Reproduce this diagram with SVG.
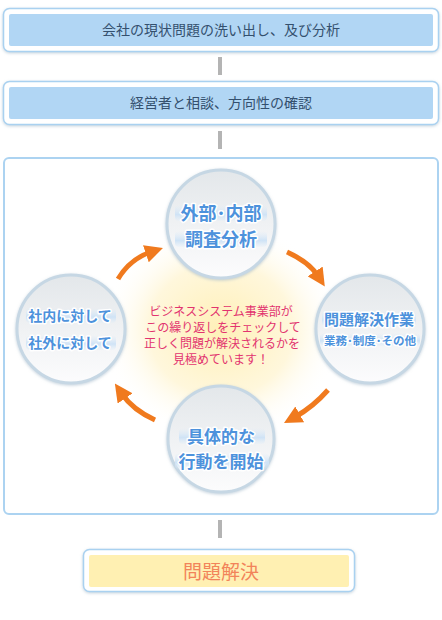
<svg xmlns="http://www.w3.org/2000/svg" width="442" height="620" viewBox="0 0 442 620">
<defs>
<style>
.box{fill:#fff;stroke:#a9d1f0;stroke-width:1.5}
.inner{fill:#b1d6f4}
.btxt{font-family:"Noto Sans CJK JP","Noto Sans",sans-serif;font-size:14px;fill:#34506e;text-anchor:middle}
.bar{fill:#b4b4b4}
.circ{fill:url(#cg);stroke:#c6d7e4;stroke-width:3}
.ctxt{font-family:"Noto Sans CJK JP","Noto Sans",sans-serif;font-weight:bold;fill:#4d92dc;stroke:#fff;stroke-width:3;paint-order:stroke;stroke-linejoin:round;text-anchor:middle}
.band{fill:url(#bandg)}
.mid{font-family:"Noto Sans CJK JP","Noto Sans",sans-serif;font-size:12px;fill:#e2336f;text-anchor:middle}
.arr{fill:none;stroke:#f07a1e;stroke-width:5;marker-end:url(#ah)}
</style>
<linearGradient id="cg" x1="0" y1="0" x2="0" y2="1">
<stop offset="0" stop-color="#e3e7ea"/>
<stop offset="1" stop-color="#fcfcfd"/>
</linearGradient>
<linearGradient id="bandg" x1="0" y1="0" x2="0" y2="1">
<stop offset="0" stop-color="#dcebf8" stop-opacity="0"/>
<stop offset="0.6" stop-color="#cfe3f6"/>
<stop offset="1" stop-color="#dcebf8" stop-opacity="0.2"/>
</linearGradient>
<radialGradient id="glow" cx="0.5" cy="0.5" r="0.5">
<stop offset="0" stop-color="#fff0b8"/>
<stop offset="0.6" stop-color="#fff7dc"/>
<stop offset="1" stop-color="#ffffff" stop-opacity="0"/>
</radialGradient>
<filter id="sh" x="-20%" y="-20%" width="140%" height="140%">
<feDropShadow dx="0" dy="1" stdDeviation="1.5" flood-color="#9fb6c8" flood-opacity="0.6"/>
</filter>
<marker id="ah" viewBox="0 0 10 10" refX="3" refY="5" markerWidth="3.6" markerHeight="3.6" orient="auto" markerUnits="strokeWidth">
<path d="M0,0 L10,5 L0,10 Z" fill="#f07a1e"/>
</marker>
</defs>
<rect width="442" height="620" fill="#fff"/>

<g id="connectors">
<rect class="bar" x="218" y="57" width="4" height="18"/>
<rect class="bar" x="218" y="131" width="4" height="18"/>
<rect class="bar" x="218" y="520" width="4" height="18"/>
</g>

<g id="step1">
<rect class="box" x="3.5" y="8.5" width="435" height="43" rx="6" filter="url(#sh)"/>
<rect class="inner" x="9" y="14" width="424" height="32" rx="2"/>
<text class="btxt" x="221" y="35">会社の現状問題の洗い出し、及び分析</text>
</g>

<g id="step2">
<rect class="box" x="3.5" y="81.5" width="435" height="43" rx="6" filter="url(#sh)"/>
<rect class="inner" x="9" y="87" width="424" height="32" rx="2"/>
<text class="btxt" x="221" y="108">経営者と相談、方向性の確認</text>
</g>

<g id="cycle">
<rect x="4" y="158" width="434" height="356" rx="5" fill="#fff" stroke="#acd3f1" stroke-width="2"/>
<ellipse cx="221" cy="330" rx="120" ry="110" fill="url(#glow)"/>

<g id="center-text">
<text class="mid"><tspan x="221" y="316">ビジネスシステム事業部が</tspan><tspan x="223" y="332">この繰り返しをチェックして</tspan><tspan x="222" y="348">正しく問題が解決されるかを</tspan><tspan x="221" y="364">見極めています！</tspan></text>
</g>

<g id="arrows">
<path class="arr" d="M118,279 Q130,259 151,252"/>
<path class="arr" d="M287,252 Q309,262 318,276"/>
<path class="arr" d="M328,390 Q313,407 295,417"/>
<path class="arr" d="M155,420 Q133,410 122,394"/>
</g>

<g id="node-top">
<circle class="circ" cx="221" cy="224" r="54" filter="url(#sh)"/>
<rect class="band" x="175" y="205" width="92" height="16" rx="4"/>
<rect class="band" x="175" y="231" width="92" height="16" rx="4"/>
<text class="ctxt" x="221" y="220" font-size="18">外部･内部</text>
<text class="ctxt" x="221" y="246" font-size="18">調査分析</text>
</g>

<g id="node-right">
<circle class="circ" cx="370" cy="329" r="54" filter="url(#sh)"/>
<rect class="band" x="322" y="311" width="94" height="15" rx="4"/>
<rect class="band" x="320" y="333" width="100" height="13" rx="4"/>
<text class="ctxt" x="369" y="325" font-size="15">問題解決作業</text>
<text class="ctxt" x="370" y="345" font-size="11.5">業務･制度･その他</text>
</g>

<g id="node-bottom">
<circle class="circ" cx="221" cy="439" r="53" filter="url(#sh)"/>
<rect class="band" x="179" y="428" width="86" height="16" rx="4"/>
<rect class="band" x="175" y="453" width="94" height="16" rx="4"/>
<text class="ctxt" x="221" y="443" font-size="17">具体的な</text>
<text class="ctxt" x="221" y="468" font-size="17">行動を開始</text>
</g>

<g id="node-left">
<circle class="circ" cx="71" cy="329" r="54" filter="url(#sh)"/>
<rect class="band" x="26" y="308" width="90" height="15" rx="4"/>
<rect class="band" x="26" y="335" width="90" height="15" rx="4"/>
<text class="ctxt" x="70" y="321" font-size="14">社内に対して</text>
<text class="ctxt" x="70" y="348" font-size="14">社外に対して</text>
</g>
</g>

<g id="result">
<rect x="83.5" y="549.5" width="271" height="42" rx="6" fill="#fff" stroke="#a9d1f0" stroke-width="1.5" filter="url(#sh)"/>
<rect x="89" y="555" width="260" height="32" rx="2" fill="#fff0b2"/>
<text x="221" y="579" font-family="'Noto Sans CJK JP','Noto Sans',sans-serif" font-size="19" fill="#f2845a" text-anchor="middle">問題解決</text>
</g>
</svg>
